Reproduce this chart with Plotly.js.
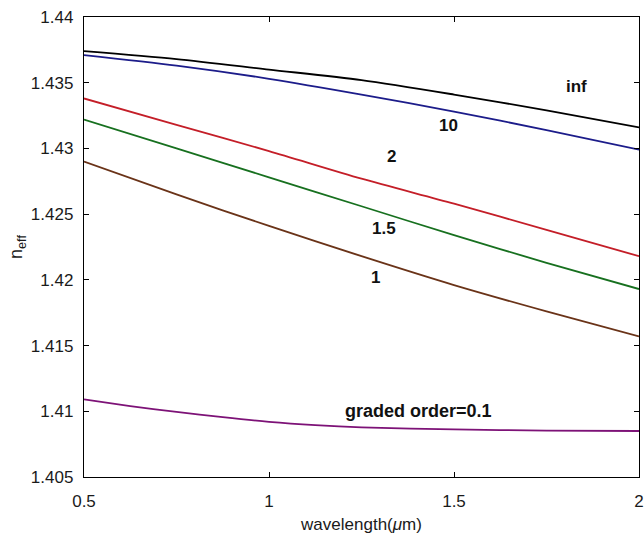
<!DOCTYPE html>
<html>
<head>
<meta charset="utf-8">
<script src="https://cdn.plot.ly/plotly-3.0.1.min.js"></script>
<style>html,body{margin:0;padding:0;background:#fff;}#chart{width:644px;height:542px;}</style>
</head>
<body>
<div id="chart"></div>
<script>
// wavelength (um)
const wavelength = [0.5, 0.75, 1.0, 1.25, 1.5, 1.75, 2.0];
// graded order labels
const orders = ["inf", "10", "2", "1.5", "1", "graded order=0.1"];
// effective index per graded order
const neffInf = [1.4374, 1.4368, 1.4360, 1.4352, 1.4341, 1.4329, 1.4316];
const neff10  = [1.4371, 1.4363, 1.4353, 1.4341, 1.4328, 1.4314, 1.4299];
const neff2   = [1.4338, 1.4318, 1.4298, 1.4277, 1.4258, 1.4238, 1.4218];
const neff1p5 = [1.4322, 1.4300, 1.4278, 1.4256, 1.4234, 1.4213, 1.4193];
const neff1   = [1.4290, 1.4265, 1.4241, 1.4218, 1.4196, 1.4176, 1.4157];
const wavelength01 = [0.5, 0.625, 0.75, 0.875, 1.0, 1.125, 1.25, 1.5, 1.75, 2.0];
const neff01  = [1.4109, 1.4104, 1.40995, 1.40955, 1.4092, 1.40895, 1.40878, 1.40862, 1.40853, 1.4085];
const yTicks = [1.405, 1.41, 1.415, 1.42, 1.425, 1.43, 1.435, 1.44];
const xTicks = [0.5, 1, 1.5, 2];

const series = [
  {x: wavelength, y: neffInf, color: '#000000'},
  {x: wavelength, y: neff10,  color: '#1c1c8a'},
  {x: wavelength, y: neff2,   color: '#c41e28'},
  {x: wavelength, y: neff1p5, color: '#17701f'},
  {x: wavelength, y: neff1,   color: '#6a3318'},
  {x: wavelength01, y: neff01, color: '#7d1277'}
];
const traces = series.map((s, i) => ({
  x: s.x, y: s.y, type: 'scatter', mode: 'lines', name: orders[i],
  line: {color: s.color, width: 1.8, shape: 'spline', smoothing: 0.8},
  hoverinfo: 'skip'
}));

const labelPos = [[1.832, 1.43475], [1.484, 1.43178], [1.330, 1.42942], [1.311, 1.42387], [1.289, 1.42021], [1.403, 1.41002]];
const labelSize = [17, 17, 17, 17, 17, 18];
const annotations = orders.map((t, i) => ({
  x: labelPos[i][0], y: labelPos[i][1], xref: 'x', yref: 'y', text: '<b>' + t + '</b>',
  showarrow: false, xanchor: 'center', yanchor: 'middle',
  font: {family: 'Liberation Sans, Arial, sans-serif', size: labelSize[i], color: '#111'}
}));

const axisCommon = {
  showgrid: false, zeroline: false, showline: true, linecolor: '#000', linewidth: 1.2,
  mirror: 'ticks', ticks: 'inside', ticklen: 5, tickwidth: 1, tickcolor: '#000',
  tickfont: {family: 'Liberation Sans, Arial, sans-serif', size: 17, color: '#1a1a1a'}
};
const layout = {
  width: 644, height: 542,
  margin: {l: 84, r: 5, t: 17, b: 65},
  paper_bgcolor: '#fff', plot_bgcolor: '#fff',
  showlegend: false,
  xaxis: Object.assign({}, axisCommon, {
    range: [0.5, 2], tickmode: 'array', tickvals: xTicks, ticktext: xTicks.map(String),
    ticklabelstandoff: 8,
    title: {text: 'wavelength(<i>μ</i>m)', standoff: 8, font: {family: 'Liberation Sans, Arial, sans-serif', size: 17, color: '#1a1a1a'}}
  }),
  yaxis: Object.assign({}, axisCommon, {
    range: [1.405, 1.44], tickmode: 'array', tickvals: yTicks, ticktext: yTicks.map(v => String(+v.toFixed(3))),
    ticklabelstandoff: 6,
    title: {text: 'n<sub>eff</sub>', standoff: 3, font: {family: 'Liberation Sans, Arial, sans-serif', size: 18, color: '#1a1a1a'}}
  }),
  annotations: annotations
};
Plotly.newPlot('chart', traces, layout, {staticPlot: true, displayModeBar: false});
</script>
</body>
</html>
